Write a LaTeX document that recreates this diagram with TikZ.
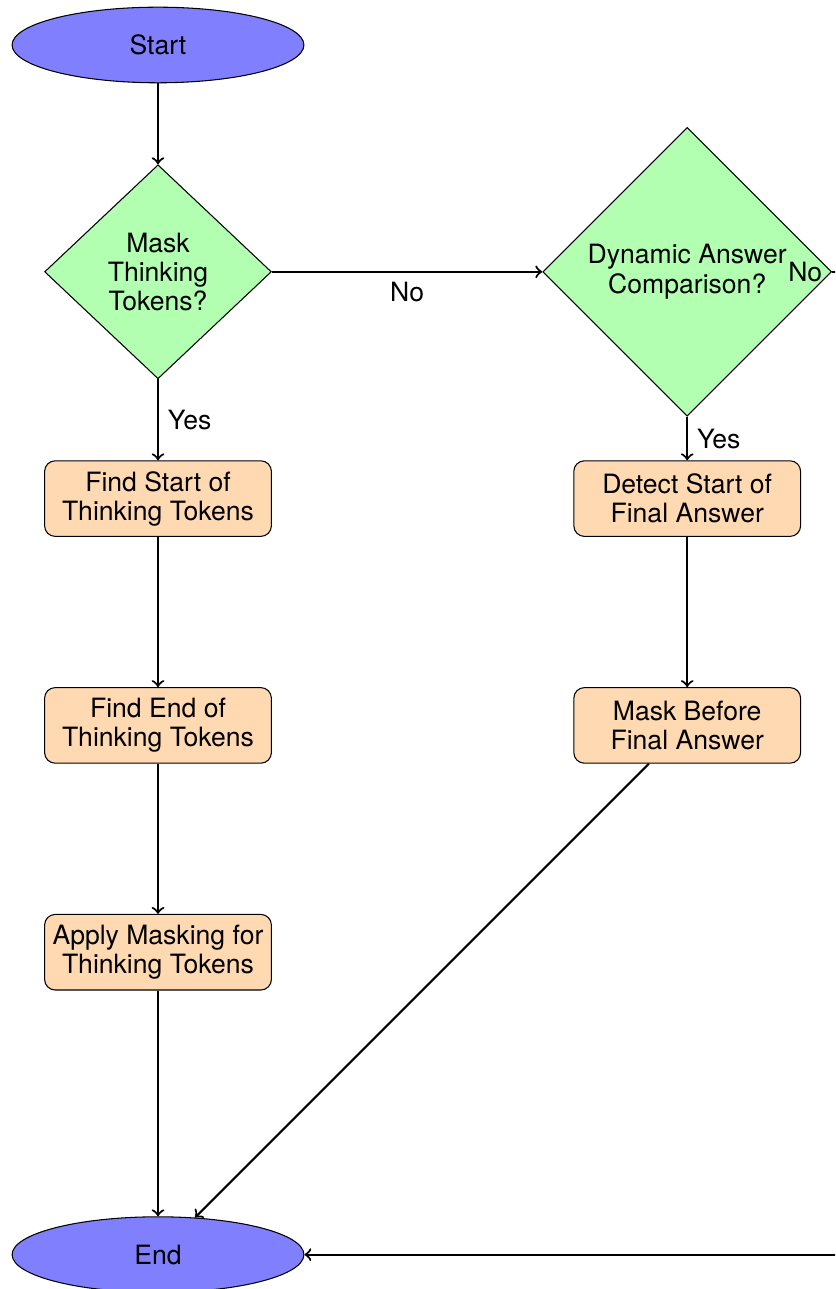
\documentclass[tikz,border=0pt]{standalone}
\usepackage{fontspec}
\setmainfont{TeX Gyre Heros}
\usetikzlibrary{shapes.geometric, positioning}

\begin{document}
\begin{tikzpicture}[
    node distance=3cm, on grid,
    every node/.style={font=\fontsize{10}{11}\selectfont},
    startstop/.style={ellipse, draw, fill=blue!50, minimum width=3.86cm, minimum height=1cm},
    decision/.style={diamond, draw, fill=green!30, minimum width=3cm, align=center},
    process/.style={rectangle, draw, fill=orange!30, minimum width=3cm, minimum height=1cm, align=center, inner xsep=2pt, rounded corners},
    arrow/.style={thick, ->}
]

\useasboundingbox (-2.09,0.595) rectangle (8.955,-16.455);
\clip (-2.09,0.595) rectangle (8.955,-16.455);

\node[startstop] (start) {Start};
\node[decision, below=of start] (maskthink) {Mask\\Thinking\\Tokens?};
\node[process, below=of maskthink] (findstart) {Find Start of\\Thinking Tokens};
\node[process, below=of findstart] (findend) {Find End of\\Thinking Tokens};
\node[process, below=of findend] (applymask) {Apply Masking for\\Thinking Tokens};
\node[startstop, below=4cm of applymask] (end) {End};
\node[decision, right=7cm of maskthink] (dynamic) {Dynamic Answer\\Comparison?};
\node[process, below=of dynamic] (detect) {Detect Start of\\Final Answer};
\node[process, below=of detect] (maskbefore) {Mask Before\\Final Answer};

\draw[arrow] (start) -- (maskthink);
\draw[arrow] (maskthink) -- node[right] {Yes} (findstart);
\draw[arrow] (maskthink) -- node[below] {No} (dynamic);
\draw[arrow] (findstart) -- (findend);
\draw[arrow] (findend) -- (applymask);
\draw[arrow] (applymask) -- (end);
\draw[arrow] (dynamic) -- node[right] {Yes} (detect);
\draw[arrow] (detect) -- (maskbefore);
\draw[arrow] (maskbefore) -- (end);
\draw[arrow] (dynamic.east) -- node[pos=0, left] {No} ++(1,0) |- (end.east);

\end{tikzpicture}
\end{document}
